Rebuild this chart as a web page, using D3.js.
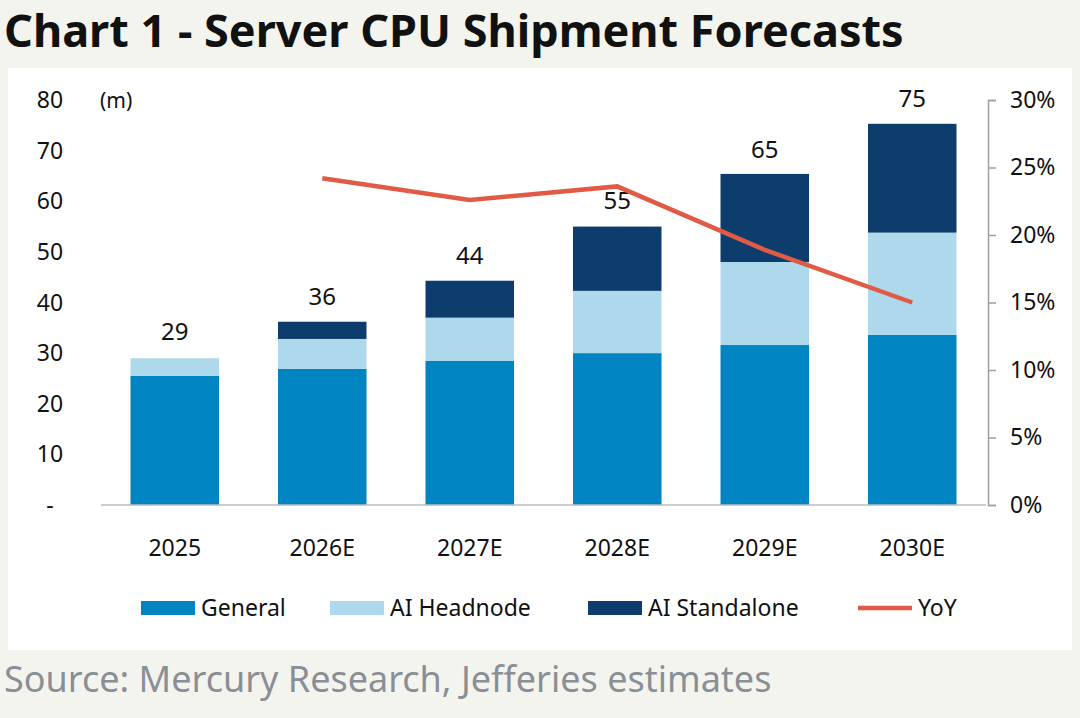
<!DOCTYPE html>
<html lang="en">
<head>
<meta charset="UTF-8">
<script src="https://d3js.org/d3.v7.min.js"></script>
<style>
  body { margin: 0; background: #f4f4ef; font-family: "Noto Sans", Arial, sans-serif; }
</style>
</head>
<body>
<div id="chart"></div>
<script>
const years = ["2025", "2026E", "2027E", "2028E", "2029E", "2030E"];
const general = [25.5, 26.9, 28.5, 30.0, 31.6, 33.6];
const headnode = [3.5, 5.9, 8.5, 12.3, 16.4, 20.2];
const standalone = [0, 3.4, 7.3, 12.7, 17.4, 21.5];
const totals = [29, 36, 44, 55, 65, 75];
const yoy = [null, 24.2, 22.6, 23.6, 18.9, 15.0];
const leftTicks = [0, 10, 20, 30, 40, 50, 60, 70, 80];
const rightTicks = [0, 5, 10, 15, 20, 25, 30];

const W = 1080, H = 718;
const svg = d3.select("#chart").append("svg").attr("width", W).attr("height", H);

svg.append("rect").attr("width", W).attr("height", H).attr("fill", "#f4f4ef");
svg.append("rect").attr("x", 8).attr("y", 68).attr("width", 1064).attr("height", 582).attr("fill", "#ffffff");

svg.append("text").attr("x", 4).attr("y", 47).attr("font-size", 45).attr("font-weight", "bold")
  .attr("fill", "#111").text("Chart 1 - Server CPU Shipment Forecasts");
svg.append("text").attr("x", 4).attr("y", 692).attr("font-size", 36).attr("fill", "#8a8f96")
  .text("Source: Mercury Research, Jefferies estimates");

const x = d3.scaleBand().domain(years).range([101, 986]).paddingInner(0.4).paddingOuter(0.2);
const y = d3.scaleLinear().domain([0, 80]).range([505, 100]);
const y2 = d3.scaleLinear().domain([0, 30]).range([505, 100]);

const series = [
  { name: "General", vals: general, color: "#0085c2" },
  { name: "AI Headnode", vals: headnode, color: "#aed8ec" },
  { name: "AI Standalone", vals: standalone, color: "#0d3d6d" }
];

years.forEach((yr, i) => {
  let base = 0;
  series.forEach(s => {
    const v = s.vals[i];
    if (v > 0) {
      svg.append("rect").attr("x", x(yr)).attr("width", x.bandwidth())
        .attr("y", y(base + v)).attr("height", y(base) - y(base + v)).attr("fill", s.color);
    }
    base += v;
  });
  svg.append("text").attr("x", x(yr) + x.bandwidth() / 2).attr("y", y(totals[i]) - 18)
    .attr("text-anchor", "middle").attr("font-size", 24).attr("fill", "#111").text(totals[i]);
});

// baseline
svg.append("line").attr("x1", 101).attr("x2", 986).attr("y1", 505).attr("y2", 505)
  .attr("stroke", "#bdbdbd").attr("stroke-width", 1.5);

// left axis labels
svg.selectAll(".lt").data(leftTicks).enter().append("text")
  .attr("x", 50).attr("y", d => y(d) + 8).attr("text-anchor", "middle")
  .attr("font-size", 23).attr("fill", "#111").text(d => d === 0 ? "-" : d);
svg.append("text").attr("x", 100).attr("y", 108).attr("font-size", 21).attr("fill", "#111").text("(m)");

// right axis
const ra = svg.append("g").attr("transform", "translate(988,0)")
  .call(d3.axisRight(y2).tickValues(rightTicks).tickFormat(d => d + "%").tickSize(8).tickPadding(14));
ra.select(".domain").attr("stroke", "#9e9e9e").attr("stroke-width", 1.5);
ra.selectAll("line").attr("stroke", "#9e9e9e").attr("stroke-width", 1.5);
ra.selectAll("text").attr("font-size", 23).attr("fill", "#111").attr("font-family", "Noto Sans, Arial");

// x labels
svg.selectAll(".xl").data(years).enter().append("text")
  .attr("x", d => x(d) + x.bandwidth() / 2).attr("y", 556).attr("text-anchor", "middle")
  .attr("font-size", 23).attr("fill", "#111").text(d => d);

// YoY line
const line = d3.line().defined(d => d.v !== null)
  .x(d => x(d.yr) + x.bandwidth() / 2).y(d => y2(d.v));
svg.append("path").datum(years.map((yr, i) => ({ yr, v: yoy[i] })))
  .attr("d", line).attr("fill", "none").attr("stroke", "#e05a46").attr("stroke-width", 4.5);

// legend
const legend = [
  { name: "General", color: "#0085c2", x: 141, type: "rect" },
  { name: "AI Headnode", color: "#aed8ec", x: 330, type: "rect" },
  { name: "AI Standalone", color: "#0d3d6d", x: 588, type: "rect" },
  { name: "YoY", color: "#e05a46", x: 858, type: "line" }
];
legend.forEach(l => {
  if (l.type === "rect") {
    svg.append("rect").attr("x", l.x).attr("y", 601).attr("width", 54).attr("height", 14).attr("fill", l.color);
    svg.append("text").attr("x", l.x + 60).attr("y", 616).attr("font-size", 23).attr("fill", "#111").text(l.name);
  } else {
    svg.append("line").attr("x1", l.x).attr("x2", l.x + 54).attr("y1", 608).attr("y2", 608)
      .attr("stroke", l.color).attr("stroke-width", 4.5);
    svg.append("text").attr("x", l.x + 60).attr("y", 616).attr("font-size", 23).attr("fill", "#111").text(l.name);
  }
});
</script>
</body>
</html>
